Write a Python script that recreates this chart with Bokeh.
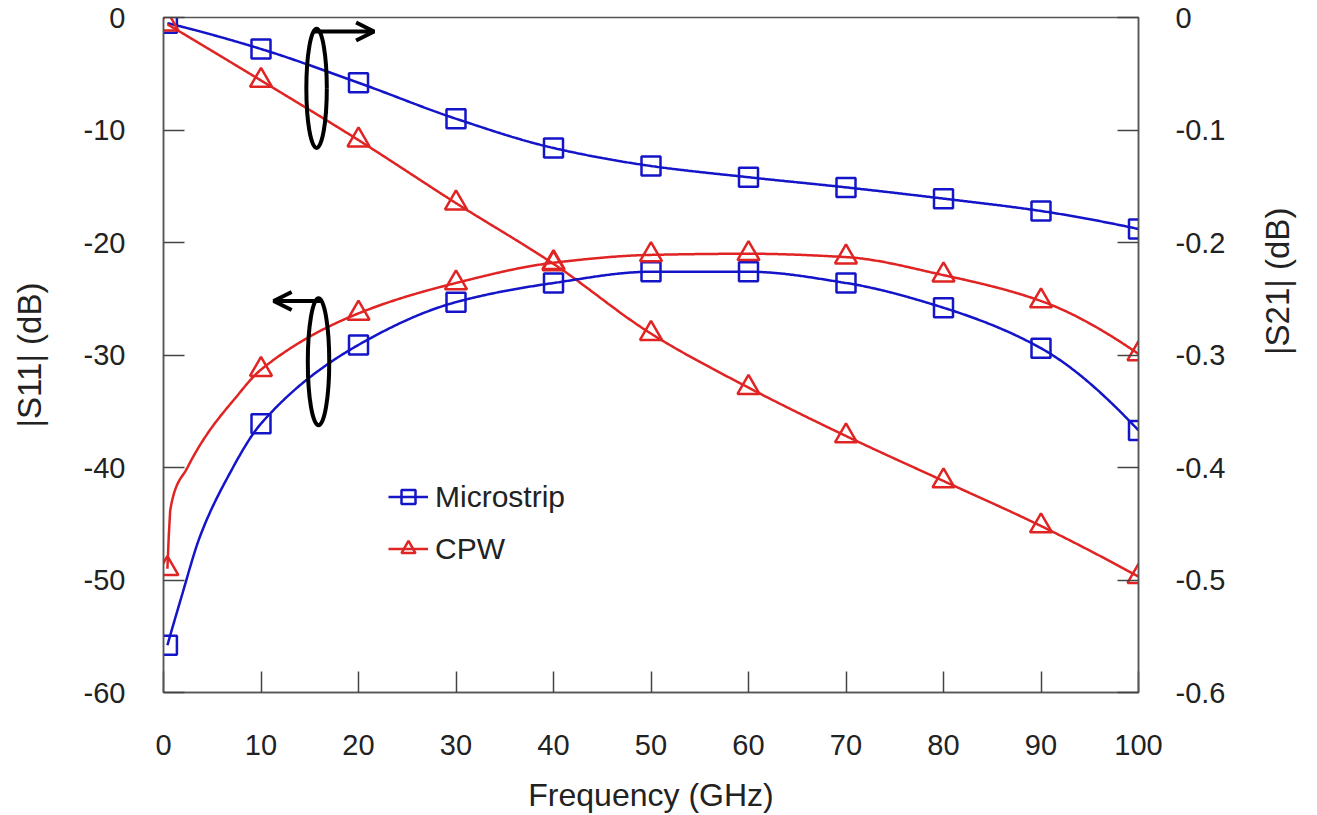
import math
import numpy as np
from bokeh.plotting import figure
from bokeh.models import (Range1d, LinearAxis, FixedTicker, Legend, LegendItem,
                          Arrow, OpenHead)
from bokeh.embed import file_html
from bokeh.resources import INLINE

# ---------------- data ----------------
freq_ghz = [0.4, 10, 20, 30, 40, 50, 60, 70, 80, 90, 100]

# |S21| (dB), right axis
s21_microstrip = [-0.005, -0.028, -0.058, -0.090, -0.116, -0.132, -0.142, -0.151, -0.161, -0.172, -0.188]
s21_cpw = [-0.006, -0.056, -0.109, -0.165, -0.219, -0.281, -0.329, -0.372, -0.412, -0.452, -0.497]

# |S11| (dB), left axis
s11_microstrip = [-55.8, -36.1, -29.1, -25.3, -23.6, -22.6, -22.6, -23.6, -25.8, -29.4, -36.7]
s11_cpw = [-49.0, -31.3, -26.3, -23.6, -21.8, -21.1, -21.0, -21.3, -22.9, -25.2, -29.9]

# additional trace readings of the |S11| curves close to 0 GHz (line only)
s11_ms_trace_f = [1.74, 3.8, 6.5]
s11_ms_trace_v = [-51.8, -46.0, -41.0]
s11_cpw_trace_f = [0.72, 2.46, 4.5, 7.2]
s11_cpw_trace_v = [-43.6, -40.0, -37.0, -34.0]

x_ticks = [0, 10, 20, 30, 40, 50, 60, 70, 80, 90, 100]
s11_ticks = [-60, -50, -40, -30, -20, -10, 0]
s11_tick_labels = ["-60", "-50", "-40", "-30", "-20", "-10", "0"]
s21_ticks = [-0.6, -0.5, -0.4, -0.3, -0.2, -0.1, 0]
s21_tick_labels = ["-0.6", "-0.5", "-0.4", "-0.3", "-0.2", "-0.1", "0"]

series_labels = ["Microstrip", "CPW"]

# ---------------- styling ----------------
BLUE = "#1414c8"
RED = "#e02424"
FONT = "Liberation Sans"
TXT = "#222222"
TICK_FS = "29px"
TITLE_FS = "33px"
XTITLE_FS = "32px"
LEG_FS = "30px"


def smooth(xs, ys, n=700):
    """Monotone cubic (PCHIP) rendering of a trace through given points."""
    order = np.argsort(xs)
    xs = np.asarray(xs, float)[order]
    ys = np.asarray(ys, float)[order]
    h = np.diff(xs)
    d = np.diff(ys) / h
    m = np.zeros_like(xs)
    for k in range(1, len(xs) - 1):
        if d[k - 1] * d[k] <= 0:
            m[k] = 0.0
        else:
            w1 = 2 * h[k] + h[k - 1]
            w2 = h[k] + 2 * h[k - 1]
            m[k] = (w1 + w2) / (w1 / d[k - 1] + w2 / d[k])

    def end(h0, h1, d0, d1):
        mm = ((2 * h0 + h1) * d0 - h0 * d1) / (h0 + h1)
        if np.sign(mm) != np.sign(d0):
            mm = 0.0
        elif np.sign(d0) != np.sign(d1) and abs(mm) > abs(3 * d0):
            mm = 3 * d0
        return mm

    m[0] = end(h[0], h[1], d[0], d[1])
    m[-1] = end(h[-1], h[-2], d[-1], d[-2])
    xx = np.linspace(xs[0], xs[-1], n)
    idx = np.clip(np.searchsorted(xs, xx) - 1, 0, len(xs) - 2)
    t = (xx - xs[idx]) / h[idx]
    h00 = 2 * t**3 - 3 * t**2 + 1
    h10 = t**3 - 2 * t**2 + t
    h01 = -2 * t**3 + 3 * t**2
    h11 = t**3 - t**2
    yy = h00 * ys[idx] + h10 * h[idx] * m[idx] + h01 * ys[idx + 1] + h11 * h[idx] * m[idx + 1]
    return xx, yy


p = figure(width=1317, height=815, output_backend="svg", toolbar_location=None,
           x_range=Range1d(0, 100), y_range=Range1d(-60, 0),
           min_border_left=163, min_border_right=179, min_border_top=17, min_border_bottom=123)
p.extra_y_ranges = {"s21": Range1d(-0.6, 0)}
p.background_fill_color = "white"
p.border_fill_color = "white"
p.grid.visible = False
p.outline_line_color = "#555555"
p.outline_line_width = 1.5


def style_axis(ax, standoff):
    ax.major_tick_in = 21
    ax.major_tick_out = 0
    ax.minor_tick_in = 0
    ax.minor_tick_out = 0
    ax.axis_line_color = "#555555"
    ax.axis_line_width = 1.5
    ax.major_tick_line_color = "#444444"
    ax.major_tick_line_width = 1.5
    ax.major_label_text_font = FONT
    ax.major_label_text_font_size = TICK_FS
    ax.major_label_text_color = TXT
    ax.major_label_standoff = standoff
    ax.axis_label_text_font = FONT
    ax.axis_label_text_font_size = TITLE_FS
    ax.axis_label_text_font_style = "normal"
    ax.axis_label_text_color = TXT


xa = p.xaxis[0]
xa.ticker = FixedTicker(ticks=x_ticks)
xa.axis_label = "Frequency (GHz)"
style_axis(xa, 42)
xa.axis_label_text_font_size = XTITLE_FS
xa.axis_label_standoff = 19

ya = p.yaxis[0]
ya.ticker = FixedTicker(ticks=s11_ticks)
ya.major_label_overrides = {t: l for t, l in zip(s11_ticks, s11_tick_labels)}
ya.axis_label = "|S11| (dB)"
style_axis(ya, 38)
ya.axis_label_standoff = 33

ra = LinearAxis(y_range_name="s21", ticker=FixedTicker(ticks=s21_ticks),
                axis_label="|S21| (dB)")
ra.major_label_overrides = {t: l for t, l in zip(s21_ticks, s21_tick_labels)}
style_axis(ra, 37)
ra.axis_label_standoff = 49
if "axis_label_orientation" in LinearAxis.properties():
    ra.axis_label_orientation = math.pi / 2
p.add_layout(ra, "right")

# ---------------- series ----------------
lw = 2.5
# |S21|
fx, fy = smooth(freq_ghz, s21_microstrip)
p.line(fx, fy, y_range_name="s21", line_color=BLUE, line_width=lw)
p.scatter(freq_ghz, s21_microstrip, y_range_name="s21", marker="square", size=19,
          fill_color=None, line_color=BLUE, line_width=lw)
fx, fy = smooth(freq_ghz, s21_cpw)
p.line(fx, fy, y_range_name="s21", line_color=RED, line_width=lw)
p.scatter(freq_ghz, s21_cpw, y_range_name="s21", marker="triangle", size=22,
          fill_color=None, line_color=RED, line_width=lw)

# |S11|
fx, fy = smooth(freq_ghz + s11_ms_trace_f, s11_microstrip + s11_ms_trace_v)
l_ms = p.line(fx, fy, line_color=BLUE, line_width=lw)
m_ms = p.scatter(freq_ghz, s11_microstrip, marker="square", size=19,
                 fill_color=None, line_color=BLUE, line_width=lw)
fx, fy = smooth(freq_ghz + s11_cpw_trace_f, s11_cpw + s11_cpw_trace_v)
l_cpw = p.line(fx, fy, line_color=RED, line_width=lw)
m_cpw = p.scatter(freq_ghz, s11_cpw, marker="triangle", size=22,
                  fill_color=None, line_color=RED, line_width=lw)

# ---------------- annotations (ellipses + arrows) ----------------
ell_x = [15.7, 15.9]
ell_y = [-6.3, -30.6]
ell_w = [2.1, 2.2]
ell_h = [10.6, 11.3]
p.ellipse(x=ell_x, y=ell_y, width=ell_w, height=ell_h, fill_color=None,
          line_color="black", line_width=4)

p.add_layout(Arrow(end=OpenHead(size=18, line_width=4, line_color="black"),
                   x_start=15.3, y_start=-1.25, x_end=21.6, y_end=-1.25,
                   line_width=4, line_color="black"))
p.add_layout(Arrow(end=OpenHead(size=18, line_width=4, line_color="black"),
                   x_start=16.1, y_start=-25.2, x_end=11.3, y_end=-25.2,
                   line_width=4, line_color="black"))

# ---------------- legend ----------------
legend = Legend(items=[LegendItem(label=series_labels[0], renderers=[l_ms, m_ms]),
                       LegendItem(label=series_labels[1], renderers=[l_cpw, m_cpw])],
                location=(225, 126), orientation="vertical")
legend.border_line_color = None
legend.background_fill_alpha = 0
legend.label_text_font = FONT
legend.label_text_font_size = LEG_FS
legend.label_text_color = TXT
legend.glyph_width = 40
legend.glyph_height = 35
legend.label_height = 35
legend.spacing = 17
legend.padding = 0
legend.margin = 0
legend.label_standoff = 7
p.add_layout(legend)

open("out.html", "w").write(file_html(p, INLINE))
